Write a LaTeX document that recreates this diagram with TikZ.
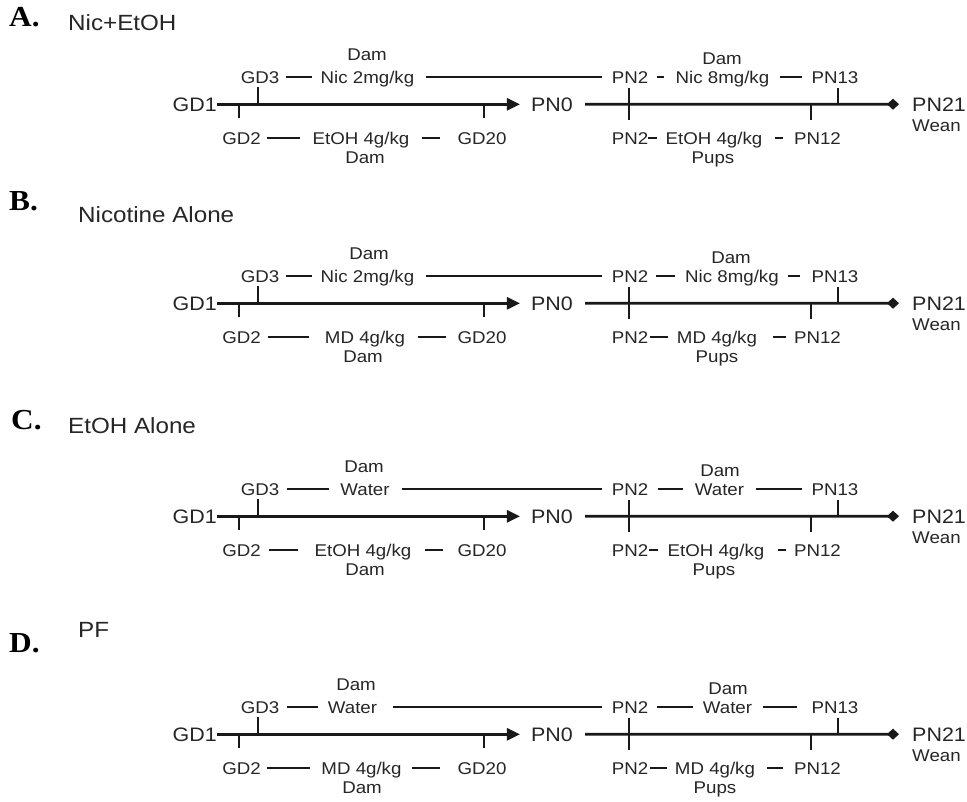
\documentclass[tikz,border=0pt]{standalone}
\usepackage{fontspec}
\setmainfont[FakeStretch=1.1]{Liberation Sans}
\newfontfamily\letterfont[FakeStretch=1.08]{Liberation Serif}
\usetikzlibrary{arrows.meta}
\tikzset{
  sm/.style={inner sep=0pt, anchor=base, font=\fontsize{17}{19}\selectfont, text=black!85},
  big/.style={inner sep=0pt, anchor=base, font=\fontsize{19.5}{21}\selectfont, text=black!85},
  ttl/.style={inner sep=0pt, anchor=base west, font=\fontsize{22}{24}\selectfont, text=black!85},
  letter/.style={inner sep=0pt, anchor=base west, font=\letterfont\bfseries\fontsize{29}{31}\selectfont},
  axisln/.style={line width=2.6pt, black!90},
  tickln/.style={line width=2.6pt, black!90},
  dashln/.style={line width=2.2pt, black!90},
}
% common skeleton of one timeline; #1 = name prefix
\newcommand{\skel}[1]{%
  \node[big, anchor=base east] (#1gd1) at (217,7) {GD1};
  \node[big] (#1pn0) at (552,7) {PN0};
  \node[big, anchor=base west] (#1pn21) at (912,7) {PN21};
  \node[sm, anchor=base west] (#1wean) at (912,27) {Wean};
  \draw[axisln, -{Triangle[length=13pt,width=12pt]}, shorten >=11pt] (#1gd1.east) -- (#1pn0.west);
  \draw[axisln, -{Diamond[length=12pt,width=11pt]}, shorten <=12pt, shorten >=13pt] (#1pn0.east) -- (#1pn21.west);
  \draw[tickln] (239,0) -- (239,14);
  \draw[tickln] (258,-17) -- (258,0);
  \draw[tickln] (484,0) -- (484,14);
  \draw[tickln] (629,-16) -- (629,16);
  \draw[tickln] (811,0) -- (811,16);
  \draw[tickln] (838,-16) -- (838,0);
  \node[sm] (#1gd3) at (260,-21) {GD3};
  \node[sm] (#1pn2u) at (630,-21) {PN2};
  \node[sm] (#1pn13) at (835,-21) {PN13};
  \node[sm] (#1gd2) at (241.5,40) {GD2};
  \node[sm] (#1gd20) at (482,40) {GD20};
  \node[sm] (#1pn2l) at (630,40) {PN2};
  \node[sm] (#1pn12) at (817.5,40) {PN12};
}
\begin{document}
\begin{tikzpicture}[x=1pt,y=-1pt]
\useasboundingbox (0,0) rectangle (967,801);
\fill[white] (0,0) rectangle (967,801);

% ---------------- A ----------------
\node[letter] (la) at (9,26) {A.};
\node[ttl] (ta) at (68,30) {Nic+EtOH};
\begin{scope}[shift={(0,104)}]
  \skel{a}
  \node[sm] (aul) at (367.5,-21) {Nic 2mg/kg};
  \node[sm] (adl) at (367,-44) {Dam};
  \node[sm] (aur) at (722.5,-21) {Nic 8mg/kg};
  \node[sm] (adr) at (722,-40) {Dam};
  \node[sm] (all) at (361,40) {EtOH 4g/kg};
  \node[sm] (alr) at (714,40) {EtOH 4g/kg};
  \node[sm] (adb) at (365,59) {Dam};
  \node[sm] (apb) at (713,59) {Pups};
  \draw[dashln] (286,-27) -- (312,-27);
  \draw[dashln] (426,-27) -- (602,-27);
  \draw[dashln] (657,-27) -- (664,-27);
  \draw[dashln] (780,-27) -- (802,-27);
  \draw[dashln] (267,34) -- (300,34);
  \draw[dashln] (422,34) -- (440,34);
  \draw[dashln] (648,34) -- (657,34);
  \draw[dashln] (775,34) -- (783,34);
\end{scope}

% ---------------- B ----------------
\node[letter] (lb) at (9,210) {B.};
\node[ttl] (tb) at (78,222) {Nicotine Alone};
\begin{scope}[shift={(0,303)}]
  \skel{b}
  \node[sm] (bul) at (367.5,-21) {Nic 2mg/kg};
  \node[sm] (bdl) at (369,-44) {Dam};
  \node[sm] (bur) at (732,-21) {Nic 8mg/kg};
  \node[sm] (bdr) at (731,-40) {Dam};
  \node[sm] (bll) at (365,40) {MD 4g/kg};
  \node[sm] (blr) at (717,40) {MD 4g/kg};
  \node[sm] (bdb) at (363,59) {Dam};
  \node[sm] (bpb) at (717,59) {Pups};
  \draw[dashln] (286,-27) -- (312,-27);
  \draw[dashln] (426,-27) -- (602,-27);
  \draw[dashln] (656,-27) -- (675,-27);
  \draw[dashln] (788,-27) -- (800,-27);
  \draw[dashln] (268,34) -- (309,34);
  \draw[dashln] (418,34) -- (446,34);
  \draw[dashln] (650,34) -- (668,34);
  \draw[dashln] (773,34) -- (786,34);
\end{scope}

% ---------------- C ----------------
\node[letter] (lc) at (11,429) {C.};
\node[ttl] (tc) at (68,433) {EtOH Alone};
\begin{scope}[shift={(0,516)}]
  \skel{c}
  \node[sm] (cul) at (365,-21) {Water};
  \node[sm] (cdl) at (364,-44) {Dam};
  \node[sm] (cur) at (719.5,-21) {Water};
  \node[sm] (cdr) at (720,-40) {Dam};
  \node[sm] (cll) at (363,40) {EtOH 4g/kg};
  \node[sm] (clr) at (716,40) {EtOH 4g/kg};
  \node[sm] (cdb) at (365,59) {Dam};
  \node[sm] (cpb) at (714,59) {Pups};
  \draw[dashln] (287,-27) -- (329,-27);
  \draw[dashln] (402,-27) -- (602,-27);
  \draw[dashln] (658,-27) -- (683,-27);
  \draw[dashln] (756,-27) -- (802,-27);
  \draw[dashln] (269,34) -- (298,34);
  \draw[dashln] (425,34) -- (443,34);
  \draw[dashln] (649,34) -- (658,34);
  \draw[dashln] (778,34) -- (786,34);
\end{scope}

% ---------------- D ----------------
\node[letter] (ld) at (9,652) {D.};
\node[ttl] (td) at (78,637) {PF};
\begin{scope}[shift={(0,734)}]
  \skel{d}
  \node[sm] (dul) at (352.5,-21) {Water};
  \node[sm] (ddl) at (356,-44) {Dam};
  \node[sm] (dur) at (727.5,-21) {Water};
  \node[sm] (ddr) at (728,-40) {Dam};
  \node[sm] (dll) at (361.5,40) {MD 4g/kg};
  \node[sm] (dlr) at (715,40) {MD 4g/kg};
  \node[sm] (ddb) at (362,59) {Dam};
  \node[sm] (dpb) at (715,59) {Pups};
  \draw[dashln] (287,-27) -- (318,-27);
  \draw[dashln] (393,-27) -- (602,-27);
  \draw[dashln] (657,-27) -- (693,-27);
  \draw[dashln] (763,-27) -- (797,-27);
  \draw[dashln] (267,34) -- (310,34);
  \draw[dashln] (412,34) -- (440,34);
  \draw[dashln] (650,34) -- (667,34);
  \draw[dashln] (767,34) -- (783,34);
\end{scope}
\end{tikzpicture}
\end{document}
